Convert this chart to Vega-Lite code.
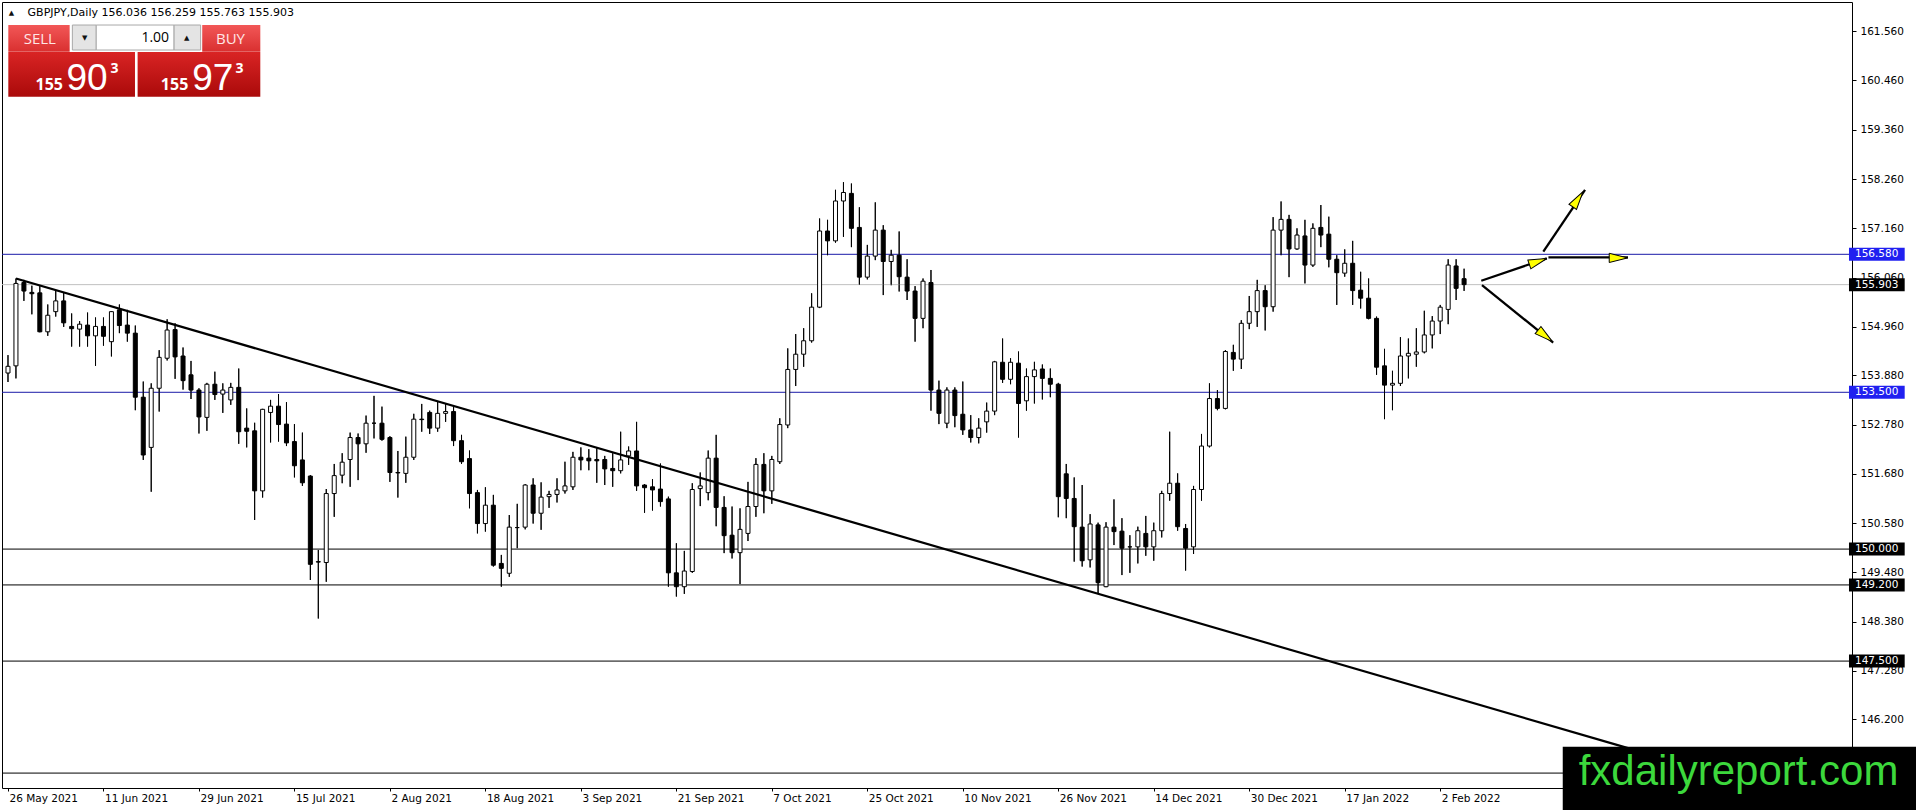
{
  "$schema": "https://vega.github.io/schema/vega-lite/v6.json",
  "width": 1850,
  "height": 786,
  "autosize": {"type": "none"},
  "padding": {"left": 2, "top": 2, "right": 64, "bottom": 22},
  "background": "#ffffff",
  "config": {
    "view": {"stroke": "#000000", "strokeWidth": 1},
    "axis": {"labelFont": "DejaVu Sans", "labelFontSize": 10.5, "labelColor": "#000000", "tickColor": "#000000", "domain": false, "grid": false}
  },
  "datasets": {
    "candles": [
      {"i":0,"o":153.93,"h":154.33,"l":153.73,"c":154.08},
      {"i":1,"o":154.09,"h":156.04,"l":153.81,"c":155.93},
      {"i":2,"o":155.95,"h":156.01,"l":155.54,"c":155.76},
      {"i":3,"o":155.73,"h":155.88,"l":155.24,"c":155.70},
      {"i":4,"o":155.72,"h":155.87,"l":154.84,"c":154.85},
      {"i":5,"o":154.85,"h":155.46,"l":154.76,"c":155.22},
      {"i":6,"o":155.30,"h":155.78,"l":155.19,"c":155.54},
      {"i":7,"o":155.54,"h":155.73,"l":154.96,"c":155.05},
      {"i":8,"o":154.97,"h":155.26,"l":154.52,"c":154.92},
      {"i":9,"o":154.91,"h":155.09,"l":154.52,"c":155.02},
      {"i":10,"o":155.00,"h":155.28,"l":154.52,"c":154.76},
      {"i":11,"o":154.76,"h":155.17,"l":154.09,"c":154.97},
      {"i":12,"o":154.97,"h":155.17,"l":154.54,"c":154.75},
      {"i":13,"o":154.63,"h":155.31,"l":154.30,"c":155.30},
      {"i":14,"o":155.34,"h":155.46,"l":154.82,"c":154.99},
      {"i":15,"o":155.00,"h":155.34,"l":154.63,"c":154.82},
      {"i":16,"o":154.82,"h":154.99,"l":153.10,"c":153.39},
      {"i":17,"o":153.39,"h":153.74,"l":151.99,"c":152.10},
      {"i":18,"o":152.27,"h":153.70,"l":151.28,"c":153.59},
      {"i":19,"o":153.59,"h":154.44,"l":153.07,"c":154.28},
      {"i":20,"o":154.26,"h":155.13,"l":154.21,"c":154.89},
      {"i":21,"o":154.90,"h":155.04,"l":153.80,"c":154.29},
      {"i":22,"o":154.31,"h":154.50,"l":153.56,"c":153.76},
      {"i":23,"o":153.89,"h":154.20,"l":153.35,"c":153.55},
      {"i":24,"o":153.55,"h":153.59,"l":152.58,"c":152.95},
      {"i":25,"o":152.94,"h":153.71,"l":152.64,"c":153.68},
      {"i":26,"o":153.68,"h":153.96,"l":153.33,"c":153.45},
      {"i":27,"o":153.46,"h":153.70,"l":153.04,"c":153.55},
      {"i":28,"o":153.33,"h":153.71,"l":153.22,"c":153.61},
      {"i":29,"o":153.61,"h":154.03,"l":152.35,"c":152.62},
      {"i":30,"o":152.70,"h":153.14,"l":152.27,"c":152.63},
      {"i":31,"o":152.64,"h":152.82,"l":150.65,"c":151.30},
      {"i":32,"o":151.30,"h":153.13,"l":151.15,"c":153.12},
      {"i":33,"o":153.05,"h":153.33,"l":152.38,"c":153.19},
      {"i":34,"o":153.19,"h":153.46,"l":152.40,"c":152.78},
      {"i":35,"o":152.79,"h":153.28,"l":152.30,"c":152.37},
      {"i":36,"o":152.40,"h":152.79,"l":151.60,"c":151.86},
      {"i":37,"o":151.99,"h":152.60,"l":151.41,"c":151.48},
      {"i":38,"o":151.63,"h":151.65,"l":149.31,"c":149.66},
      {"i":39,"o":149.72,"h":149.98,"l":148.45,"c":149.71},
      {"i":40,"o":149.70,"h":151.34,"l":149.27,"c":151.24},
      {"i":41,"o":151.24,"h":151.90,"l":150.72,"c":151.64},
      {"i":42,"o":151.65,"h":152.14,"l":151.47,"c":151.94},
      {"i":43,"o":152.00,"h":152.60,"l":151.39,"c":152.49},
      {"i":44,"o":152.49,"h":152.58,"l":151.54,"c":152.35},
      {"i":45,"o":152.35,"h":152.98,"l":152.15,"c":152.81},
      {"i":46,"o":152.81,"h":153.42,"l":152.47,"c":152.81},
      {"i":47,"o":152.81,"h":153.18,"l":152.42,"c":152.45},
      {"i":48,"o":152.49,"h":152.52,"l":151.50,"c":151.71},
      {"i":49,"o":151.71,"h":152.19,"l":151.15,"c":151.70},
      {"i":50,"o":151.69,"h":152.51,"l":151.48,"c":152.05},
      {"i":51,"o":152.05,"h":153.02,"l":151.99,"c":152.90},
      {"i":52,"o":152.90,"h":153.24,"l":152.62,"c":152.89},
      {"i":53,"o":153.05,"h":153.09,"l":152.57,"c":152.70},
      {"i":54,"o":152.70,"h":153.29,"l":152.62,"c":153.03},
      {"i":55,"o":153.03,"h":153.25,"l":152.84,"c":153.07},
      {"i":56,"o":153.07,"h":153.18,"l":152.30,"c":152.42},
      {"i":57,"o":152.42,"h":152.55,"l":151.90,"c":151.95},
      {"i":58,"o":152.02,"h":152.20,"l":150.91,"c":151.24},
      {"i":59,"o":151.26,"h":151.32,"l":150.35,"c":150.57},
      {"i":60,"o":150.57,"h":151.38,"l":150.39,"c":150.98},
      {"i":61,"o":150.98,"h":151.21,"l":149.61,"c":149.64},
      {"i":62,"o":149.68,"h":149.87,"l":149.16,"c":149.57},
      {"i":63,"o":149.46,"h":150.76,"l":149.38,"c":150.49},
      {"i":64,"o":150.48,"h":151.01,"l":150.02,"c":150.48},
      {"i":65,"o":150.49,"h":151.45,"l":150.44,"c":151.43},
      {"i":66,"o":151.43,"h":151.58,"l":150.57,"c":150.80},
      {"i":67,"o":150.80,"h":151.49,"l":150.43,"c":151.16},
      {"i":68,"o":151.17,"h":151.30,"l":150.92,"c":151.22},
      {"i":69,"o":151.22,"h":151.58,"l":151.04,"c":151.32},
      {"i":70,"o":151.30,"h":151.95,"l":151.24,"c":151.41},
      {"i":71,"o":151.39,"h":152.17,"l":151.32,"c":152.05},
      {"i":72,"o":152.05,"h":152.27,"l":151.76,"c":151.99},
      {"i":73,"o":152.03,"h":152.23,"l":151.76,"c":151.97},
      {"i":74,"o":152.00,"h":152.25,"l":151.48,"c":151.97},
      {"i":75,"o":152.00,"h":152.08,"l":151.43,"c":151.79},
      {"i":76,"o":151.80,"h":152.14,"l":151.39,"c":151.75},
      {"i":77,"o":151.75,"h":152.62,"l":151.69,"c":151.99},
      {"i":78,"o":152.08,"h":152.29,"l":151.88,"c":152.19},
      {"i":79,"o":152.19,"h":152.84,"l":151.30,"c":151.41},
      {"i":80,"o":151.43,"h":151.45,"l":150.81,"c":151.37},
      {"i":81,"o":151.39,"h":151.56,"l":150.86,"c":151.32},
      {"i":82,"o":151.34,"h":151.91,"l":150.95,"c":151.06},
      {"i":83,"o":151.12,"h":151.17,"l":149.16,"c":149.47},
      {"i":84,"o":149.47,"h":150.13,"l":148.94,"c":149.16},
      {"i":85,"o":149.16,"h":149.96,"l":149.00,"c":149.51},
      {"i":86,"o":149.50,"h":151.47,"l":149.47,"c":151.33},
      {"i":87,"o":151.35,"h":151.71,"l":150.96,"c":151.41},
      {"i":88,"o":151.26,"h":152.20,"l":151.09,"c":152.03},
      {"i":89,"o":152.03,"h":152.55,"l":150.51,"c":150.93},
      {"i":90,"o":150.93,"h":151.18,"l":149.91,"c":150.30},
      {"i":91,"o":150.31,"h":150.95,"l":149.79,"c":149.92},
      {"i":92,"o":149.92,"h":150.91,"l":149.22,"c":150.44},
      {"i":93,"o":150.35,"h":151.50,"l":150.18,"c":150.95},
      {"i":94,"o":150.95,"h":152.03,"l":150.72,"c":151.89},
      {"i":95,"o":151.89,"h":152.14,"l":150.80,"c":151.30},
      {"i":96,"o":151.30,"h":152.08,"l":151.01,"c":152.00},
      {"i":97,"o":151.95,"h":152.92,"l":151.90,"c":152.78},
      {"i":98,"o":152.77,"h":154.48,"l":152.70,"c":154.01},
      {"i":99,"o":154.01,"h":154.80,"l":153.64,"c":154.35},
      {"i":100,"o":154.35,"h":154.93,"l":154.07,"c":154.65},
      {"i":101,"o":154.65,"h":155.71,"l":154.61,"c":155.40},
      {"i":102,"o":155.40,"h":157.38,"l":155.38,"c":157.10},
      {"i":103,"o":157.10,"h":157.35,"l":156.56,"c":156.88},
      {"i":104,"o":156.88,"h":158.02,"l":156.84,"c":157.77},
      {"i":105,"o":157.77,"h":158.19,"l":156.97,"c":157.96},
      {"i":106,"o":157.94,"h":158.16,"l":156.74,"c":157.16},
      {"i":107,"o":157.18,"h":157.63,"l":155.90,"c":156.07},
      {"i":108,"o":156.07,"h":156.79,"l":156.02,"c":156.54},
      {"i":109,"o":156.54,"h":157.74,"l":156.45,"c":157.12},
      {"i":110,"o":157.12,"h":157.23,"l":155.67,"c":156.42},
      {"i":111,"o":156.42,"h":156.68,"l":155.89,"c":156.56},
      {"i":112,"o":156.56,"h":157.09,"l":155.75,"c":156.08},
      {"i":113,"o":156.07,"h":156.47,"l":155.56,"c":155.76},
      {"i":114,"o":155.76,"h":155.87,"l":154.63,"c":155.15},
      {"i":115,"o":155.15,"h":156.04,"l":154.93,"c":155.98},
      {"i":116,"o":155.95,"h":156.23,"l":153.09,"c":153.55},
      {"i":117,"o":153.55,"h":153.76,"l":152.79,"c":153.03},
      {"i":118,"o":152.81,"h":153.61,"l":152.70,"c":153.55},
      {"i":119,"o":153.55,"h":153.61,"l":152.72,"c":152.98},
      {"i":120,"o":153.01,"h":153.74,"l":152.55,"c":152.66},
      {"i":121,"o":152.66,"h":152.99,"l":152.38,"c":152.49},
      {"i":122,"o":152.49,"h":152.92,"l":152.36,"c":152.70},
      {"i":123,"o":152.84,"h":153.27,"l":152.60,"c":153.08},
      {"i":124,"o":153.08,"h":154.20,"l":152.99,"c":154.18},
      {"i":125,"o":154.17,"h":154.70,"l":153.71,"c":153.79},
      {"i":126,"o":153.79,"h":154.26,"l":153.68,"c":154.17},
      {"i":127,"o":154.15,"h":154.41,"l":152.49,"c":153.25},
      {"i":128,"o":153.31,"h":154.03,"l":153.09,"c":153.85},
      {"i":129,"o":153.85,"h":154.18,"l":153.25,"c":154.00},
      {"i":130,"o":154.02,"h":154.12,"l":153.34,"c":153.81},
      {"i":131,"o":153.81,"h":154.03,"l":153.39,"c":153.68},
      {"i":132,"o":153.68,"h":153.71,"l":150.71,"c":151.17},
      {"i":133,"o":151.68,"h":151.90,"l":150.69,"c":151.13},
      {"i":134,"o":151.13,"h":151.60,"l":149.72,"c":150.50},
      {"i":135,"o":150.49,"h":151.43,"l":149.61,"c":149.74},
      {"i":136,"o":149.76,"h":150.78,"l":149.59,"c":150.56},
      {"i":137,"o":150.54,"h":150.59,"l":149.01,"c":149.25},
      {"i":138,"o":149.16,"h":150.60,"l":149.15,"c":150.49},
      {"i":139,"o":150.49,"h":151.11,"l":150.09,"c":150.39},
      {"i":140,"o":150.40,"h":150.69,"l":149.42,"c":150.02},
      {"i":141,"o":150.05,"h":150.31,"l":149.47,"c":150.05},
      {"i":142,"o":150.05,"h":150.50,"l":149.68,"c":150.41},
      {"i":143,"o":150.35,"h":150.74,"l":149.85,"c":150.05},
      {"i":144,"o":150.05,"h":150.59,"l":149.74,"c":150.41},
      {"i":145,"o":150.41,"h":151.30,"l":150.26,"c":151.24},
      {"i":146,"o":151.24,"h":152.62,"l":151.08,"c":151.47},
      {"i":147,"o":151.47,"h":151.69,"l":150.41,"c":150.50},
      {"i":148,"o":150.46,"h":150.56,"l":149.52,"c":150.02},
      {"i":149,"o":150.05,"h":151.41,"l":149.89,"c":151.33},
      {"i":150,"o":151.33,"h":152.57,"l":151.08,"c":152.30},
      {"i":151,"o":152.30,"h":153.70,"l":152.27,"c":153.36},
      {"i":152,"o":153.36,"h":153.55,"l":153.10,"c":153.14},
      {"i":153,"o":153.14,"h":154.44,"l":153.12,"c":154.41},
      {"i":154,"o":154.39,"h":154.56,"l":153.98,"c":154.24},
      {"i":155,"o":154.24,"h":155.11,"l":154.02,"c":155.04},
      {"i":156,"o":155.04,"h":155.65,"l":154.91,"c":155.30},
      {"i":157,"o":155.30,"h":156.01,"l":154.96,"c":155.77},
      {"i":158,"o":155.77,"h":155.89,"l":154.88,"c":155.41},
      {"i":159,"o":155.41,"h":157.41,"l":155.30,"c":157.12},
      {"i":160,"o":157.12,"h":157.76,"l":156.56,"c":157.36},
      {"i":161,"o":157.36,"h":157.46,"l":156.07,"c":156.70},
      {"i":162,"o":156.70,"h":157.16,"l":156.68,"c":157.01},
      {"i":163,"o":156.99,"h":157.35,"l":155.93,"c":156.34},
      {"i":164,"o":156.34,"h":157.27,"l":156.30,"c":157.16},
      {"i":165,"o":157.18,"h":157.68,"l":156.74,"c":157.01},
      {"i":166,"o":157.03,"h":157.42,"l":156.29,"c":156.47},
      {"i":167,"o":156.47,"h":156.56,"l":155.45,"c":156.17},
      {"i":168,"o":156.16,"h":156.69,"l":156.08,"c":156.38},
      {"i":169,"o":156.38,"h":156.88,"l":155.45,"c":155.77},
      {"i":170,"o":155.78,"h":156.19,"l":155.37,"c":155.60},
      {"i":171,"o":155.60,"h":156.04,"l":155.13,"c":155.15},
      {"i":172,"o":155.15,"h":155.19,"l":153.89,"c":154.06},
      {"i":173,"o":154.09,"h":154.47,"l":152.90,"c":153.66},
      {"i":174,"o":153.66,"h":153.98,"l":153.10,"c":153.70},
      {"i":175,"o":153.70,"h":154.73,"l":153.64,"c":154.31},
      {"i":176,"o":154.31,"h":154.70,"l":153.81,"c":154.37},
      {"i":177,"o":154.35,"h":154.93,"l":154.07,"c":154.40},
      {"i":178,"o":154.40,"h":155.32,"l":154.37,"c":154.78},
      {"i":179,"o":154.78,"h":155.20,"l":154.48,"c":155.09},
      {"i":180,"o":155.09,"h":155.45,"l":154.80,"c":155.40},
      {"i":181,"o":155.35,"h":156.47,"l":155.02,"c":156.34},
      {"i":182,"o":156.32,"h":156.47,"l":155.56,"c":155.82},
      {"i":183,"o":156.036,"h":156.259,"l":155.763,"c":155.903}
    ],
    "levels": [
      {"p":156.58,"kind":"blue"},
      {"p":153.5,"kind":"blue"},
      {"p":150.0,"kind":"black"},
      {"p":149.2,"kind":"black"},
      {"p":147.5,"kind":"black"},
      {"p":145.0,"kind":"black"},
      {"p":155.903,"kind":"bid"}
    ],
    "boxes": [
      {"p":156.58,"kind":"blue","txt":"156.580"},
      {"p":155.903,"kind":"black","txt":"155.903"},
      {"p":153.5,"kind":"blue","txt":"153.500"},
      {"p":150.0,"kind":"black","txt":"150.000"},
      {"p":149.2,"kind":"black","txt":"149.200"},
      {"p":147.5,"kind":"black","txt":"147.500"}
    ],
    "lines": [
      {"x":1,"y":156.04,"x2":210,"y2":145.226},
      {"x":185.16,"y":155.99,"x2":193.4,"y2":156.49},
      {"x":193.6,"y":156.51,"x2":203.6,"y2":156.51},
      {"x":192.96,"y":156.64,"x2":198.2,"y2":158.02},
      {"x":185.25,"y":155.89,"x2":194.2,"y2":154.61}
    ],
    "heads": [
      {"x":192.3,"y":156.42,"ang":-18.8},
      {"x":202.4,"y":156.5,"ang":0},
      {"x":197.3,"y":157.81,"ang":-56},
      {"x":193.2,"y":154.76,"ang":38.8}
    ],
    "uirects": [
      {"part":"sellTop","x":0.04,"x2":7.75,"y":161.698,"y2":161.102},
      {"part":"buyTop","x":24.41,"x2":31.71,"y":161.698,"y2":161.102},
      {"part":"lotBtn","x":8.09,"x2":11.09,"y":161.698,"y2":161.14},
      {"part":"lotField","x":11.09,"x2":20.875,"y":161.698,"y2":161.14},
      {"part":"lotBtn","x":20.875,"x2":24.21,"y":161.698,"y2":161.14},
      {"part":"sellPrice","x":0.04,"x2":15.96,"y":161.096,"y2":160.098},
      {"part":"buyPrice","x":16.29,"x2":31.71,"y":161.096,"y2":160.098},
      {"part":"wm","x":195.4,"x2":240,"y":145.59,"y2":143.5}
    ],
    "uitext": [
      {"cls":"tri","t":"▲","x":0.44,"y":161.966},
      {"cls":"title","t":"GBPJPY,Daily  156.036 156.259 155.763 155.903","x":2.46,"y":161.966},
      {"cls":"btn","t":"SELL","x":3.995,"y":161.38},
      {"cls":"btn","t":"BUY","x":27.96,"y":161.38},
      {"cls":"lot","t":"1.00","x":20.25,"y":161.41},
      {"cls":"arr","t":"▼","x":9.625,"y":161.40},
      {"cls":"arr","t":"▲","x":22.46,"y":161.41},
      {"cls":"small","t":"155","x":3.46,"y":160.247},
      {"cls":"big","t":"90","x":7.34,"y":160.247},
      {"cls":"sup","t":"3","x":12.875,"y":160.879},
      {"cls":"small","t":"155","x":19.21,"y":160.247},
      {"cls":"big","t":"97","x":23.16,"y":160.247},
      {"cls":"sup","t":"3","x":28.59,"y":160.879},
      {"cls":"wm","t":"fxdailyreport.com","x":197.4,"y":144.73}
    ]
  },
  "layer": [
    {
      "data": {"name": "candles"},
      "mark": {"type": "rule", "color": "#000000", "strokeWidth": 1},
      "encoding": {
        "x": {"field": "i", "type": "quantitative", "scale": {"domain": [-0.125, 231.125], "nice": false, "zero": false},
              "axis": {"title": null, "orient": "bottom", "values": [0,12,24,36,48,60,72,84,96,108,120,132,144,156,168,180], "tickSize": 3, "labelPadding": 2, "labelAlign": "left", "labelOffset": 1, "labelOverlap": false, "labelBound": false, "labelFlush": false,
                       "labelExpr": "['26 May 2021','11 Jun 2021','29 Jun 2021','15 Jul 2021','2 Aug 2021','18 Aug 2021','3 Sep 2021','21 Sep 2021','7 Oct 2021','25 Oct 2021','10 Nov 2021','26 Nov 2021','14 Dec 2021','30 Dec 2021','17 Jan 2022','2 Feb 2022'][round(datum.value/12)]"}},
        "y": {"field": "l", "type": "quantitative", "scale": {"domain": [144.667, 162.212], "nice": false, "zero": false},
              "axis": {"title": null, "orient": "right", "values": [161.56,160.46,159.36,158.26,157.16,156.06,154.96,153.88,152.78,151.68,150.58,149.48,148.38,147.28,146.2], "format": ".3f", "tickSize": 4, "labelPadding": 4, "labelBaseline": "middle", "labelOverlap": false, "labelBound": false, "labelFlush": false}},
        "y2": {"field": "h"}
      }
    },
    {
      "data": {"name": "levels"},
      "mark": {"type": "rule", "strokeWidth": 1},
      "encoding": {
        "y": {"field": "p", "type": "quantitative"},
        "color": {"field": "kind", "type": "nominal", "scale": {"domain": ["blue", "black", "bid"], "range": ["#1a1aa8", "#000000", "#c0c0c0"]}, "legend": null}
      }
    },
    {
      "data": {"name": "candles"},
      "mark": {"type": "rule", "color": "#000000", "strokeWidth": 1},
      "encoding": {
        "x": {"field": "i", "type": "quantitative"},
        "y": {"field": "l", "type": "quantitative"},
        "y2": {"field": "h"}
      }
    },
    {
      "data": {"name": "candles"},
      "mark": {"type": "bar", "size": 4, "stroke": "#000000", "strokeWidth": 1},
      "encoding": {
        "x": {"field": "i", "type": "quantitative"},
        "y": {"field": "o", "type": "quantitative"},
        "y2": {"field": "c"},
        "fill": {"condition": {"test": "datum.c >= datum.o", "value": "#ffffff"}, "value": "#000000"}
      }
    },
    {
      "data": {"name": "lines"},
      "mark": {"type": "rule", "color": "#000000", "strokeWidth": 2.3},
      "encoding": {
        "x": {"field": "x", "type": "quantitative"},
        "x2": {"field": "x2"},
        "y": {"field": "y", "type": "quantitative"},
        "y2": {"field": "y2"}
      }
    },
    {
      "data": {"name": "heads"},
      "mark": {"type": "point", "shape": "M -1 -0.5 L 1 0 L -1 0.5 Z", "size": 340, "filled": true, "fill": "#ffff00", "stroke": "#000000", "strokeWidth": 1, "opacity": 1},
      "encoding": {
        "x": {"field": "x", "type": "quantitative"},
        "y": {"field": "y", "type": "quantitative"},
        "angle": {"field": "ang", "type": "quantitative", "scale": null}
      }
    },
    {
      "data": {"name": "boxes"},
      "mark": {"type": "rect", "yOffset": -6.5, "y2Offset": 6.5},
      "encoding": {
        "x": {"datum": 231.375, "type": "quantitative"},
        "x2": {"datum": 238.375},
        "y": {"field": "p", "type": "quantitative"},
        "y2": {"field": "p"},
        "fill": {"field": "kind", "type": "nominal", "scale": {"domain": ["blue", "black"], "range": ["#2020f0", "#000000"]}, "legend": null}
      }
    },
    {
      "data": {"name": "boxes"},
      "mark": {"type": "text", "font": "DejaVu Sans", "fontSize": 10.5, "color": "#ffffff", "align": "left", "baseline": "middle"},
      "encoding": {
        "x": {"datum": 232.125, "type": "quantitative"},
        "y": {"field": "p", "type": "quantitative"},
        "text": {"field": "txt"}
      }
    },
    {
      "data": {"name": "uirects"},
      "transform": [{"filter": "datum.part == 'sellTop' || datum.part == 'buyTop'"}],
      "mark": {"type": "rect", "fill": {"gradient": "linear", "x1": 0, "y1": 0, "x2": 0, "y2": 1, "stops": [{"offset": 0, "color": "#f25757"}, {"offset": 1, "color": "#d93030"}]}},
      "encoding": {
        "x": {"field": "x", "type": "quantitative"},
        "x2": {"field": "x2"},
        "y": {"field": "y", "type": "quantitative"},
        "y2": {"field": "y2"}
      }
    },
    {
      "data": {"name": "uirects"},
      "transform": [{"filter": "datum.part == 'sellPrice' || datum.part == 'buyPrice'"}],
      "mark": {"type": "rect", "fill": {"gradient": "linear", "x1": 0, "y1": 0, "x2": 0, "y2": 1, "stops": [{"offset": 0, "color": "#d92424"}, {"offset": 1, "color": "#aa0a0a"}]}},
      "encoding": {
        "x": {"field": "x", "type": "quantitative"},
        "x2": {"field": "x2"},
        "y": {"field": "y", "type": "quantitative"},
        "y2": {"field": "y2"}
      }
    },
    {
      "data": {"name": "uirects"},
      "transform": [{"filter": "datum.part == 'lotBtn' || datum.part == 'lotField'"}],
      "mark": {"type": "rect", "stroke": "#a8a8a8", "strokeWidth": 1},
      "encoding": {
        "x": {"field": "x", "type": "quantitative"},
        "x2": {"field": "x2"},
        "y": {"field": "y", "type": "quantitative"},
        "y2": {"field": "y2"},
        "fill": {"condition": {"test": "datum.part == 'lotField'", "value": "#ffffff"}, "value": "#e4e4e4"}
      }
    },
    {
      "data": {"name": "uirects"},
      "transform": [{"filter": "datum.part == 'wm'"}],
      "mark": {"type": "rect", "fill": "#000000"},
      "encoding": {
        "x": {"field": "x", "type": "quantitative"},
        "x2": {"field": "x2"},
        "y": {"field": "y", "type": "quantitative"},
        "y2": {"field": "y2"}
      }
    },
    {
      "data": {"name": "uitext"},
      "transform": [{"filter": "datum.cls == 'title'"}],
      "mark": {"type": "text", "font": "DejaVu Sans", "fontSize": 11, "color": "#000000", "align": "left", "baseline": "middle"},
      "encoding": {
        "x": {"field": "x", "type": "quantitative"},
        "y": {"field": "y", "type": "quantitative"},
        "text": {"field": "t"}
      }
    },
    {
      "data": {"name": "uitext"},
      "transform": [{"filter": "datum.cls == 'tri' || datum.cls == 'arr'"}],
      "mark": {"type": "text", "font": "DejaVu Sans", "fontSize": 7, "color": "#111111", "align": "center", "baseline": "middle"},
      "encoding": {
        "x": {"field": "x", "type": "quantitative"},
        "y": {"field": "y", "type": "quantitative"},
        "text": {"field": "t"}
      }
    },
    {
      "data": {"name": "uitext"},
      "transform": [{"filter": "datum.cls == 'btn'"}],
      "mark": {"type": "text", "font": "Open Sans", "fontSize": 15, "color": "#ffe6e6", "align": "center", "baseline": "middle"},
      "encoding": {
        "x": {"field": "x", "type": "quantitative"},
        "y": {"field": "y", "type": "quantitative"},
        "text": {"field": "t"}
      }
    },
    {
      "data": {"name": "uitext"},
      "transform": [{"filter": "datum.cls == 'lot'"}],
      "mark": {"type": "text", "font": "Open Sans", "fontSize": 14, "color": "#000000", "align": "right", "baseline": "middle"},
      "encoding": {
        "x": {"field": "x", "type": "quantitative"},
        "y": {"field": "y", "type": "quantitative"},
        "text": {"field": "t"}
      }
    },
    {
      "data": {"name": "uitext"},
      "transform": [{"filter": "datum.cls == 'small'"}],
      "mark": {"type": "text", "font": "Open Sans", "fontSize": 16, "fontWeight": "bold", "color": "#ffffff", "align": "left", "baseline": "alphabetic"},
      "encoding": {
        "x": {"field": "x", "type": "quantitative"},
        "y": {"field": "y", "type": "quantitative"},
        "text": {"field": "t"}
      }
    },
    {
      "data": {"name": "uitext"},
      "transform": [{"filter": "datum.cls == 'big'"}],
      "mark": {"type": "text", "font": "Liberation Sans Narrow, Liberation Sans", "fontSize": 37, "color": "#ffffff", "align": "left", "baseline": "alphabetic"},
      "encoding": {
        "x": {"field": "x", "type": "quantitative"},
        "y": {"field": "y", "type": "quantitative"},
        "text": {"field": "t"}
      }
    },
    {
      "data": {"name": "uitext"},
      "transform": [{"filter": "datum.cls == 'sup'"}],
      "mark": {"type": "text", "font": "Open Sans", "fontSize": 14, "fontWeight": "bold", "color": "#ffffff", "align": "left", "baseline": "top"},
      "encoding": {
        "x": {"field": "x", "type": "quantitative"},
        "y": {"field": "y", "type": "quantitative"},
        "text": {"field": "t"}
      }
    },
    {
      "data": {"name": "uitext"},
      "transform": [{"filter": "datum.cls == 'wm'"}],
      "mark": {"type": "text", "font": "Liberation Sans", "fontSize": 42, "color": "#3cd83c", "align": "left", "baseline": "alphabetic"},
      "encoding": {
        "x": {"field": "x", "type": "quantitative"},
        "y": {"field": "y", "type": "quantitative"},
        "text": {"field": "t"}
      }
    }
  ]
}
